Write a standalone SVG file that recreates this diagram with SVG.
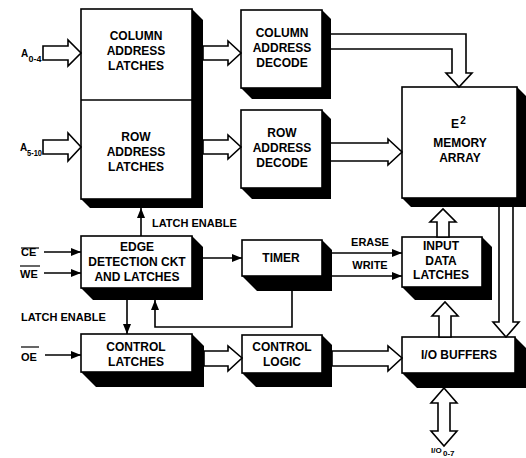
<svg xmlns="http://www.w3.org/2000/svg" width="526" height="458" viewBox="0 0 526 458">
<style>
.box{fill:#fff;stroke:#000;stroke-width:1.6}
.sh{fill:#000}
.t{font-family:"Liberation Sans",Arial,sans-serif;font-weight:bold;font-size:12px;text-anchor:middle;fill:#000}
.l{font-family:"Liberation Sans",Arial,sans-serif;font-weight:bold;font-size:11px;fill:#000}
.s{font-family:"Liberation Sans",Arial,sans-serif;font-weight:bold;font-size:9px;fill:#000}
.ln{stroke:#000;stroke-width:1.6;fill:none}
.ha{fill:#fff;stroke:#000;stroke-width:1.6;stroke-linejoin:miter}
</style>
<defs>
<marker id="ar" viewBox="0 0 10 8" refX="10" refY="4" markerWidth="11" markerHeight="8" orient="auto" markerUnits="userSpaceOnUse">
<path d="M0,0 L10,4 L0,8 z" fill="#000"/>
</marker>
</defs>
<rect width="526" height="458" fill="#fff"/>

<g id="address-latches">
<polygon class="sh" points="192,9 203,20 203,208 90,208 81,199"/>
<rect class="box" x="81" y="9" width="111" height="190"/>
<line class="ln" x1="81" y1="100" x2="192" y2="100"/>
<text class="t" x="136" y="40">COLUMN</text>
<text class="t" x="136" y="55">ADDRESS</text>
<text class="t" x="136" y="70">LATCHES</text>
<text class="t" x="136" y="141">ROW</text>
<text class="t" x="136" y="156">ADDRESS</text>
<text class="t" x="136" y="171">LATCHES</text>
</g>

<g id="column-decode">
<polygon class="sh" points="322,10 331,19 331,99 252,99 241,88"/>
<rect class="box" x="241" y="10" width="81" height="78"/>
<text class="t" x="282" y="37">COLUMN</text>
<text class="t" x="282" y="52">ADDRESS</text>
<text class="t" x="282" y="67">DECODE</text>
</g>

<g id="row-decode">
<polygon class="sh" points="322,110 331,119 331,199 252,199 241,188"/>
<rect class="box" x="241" y="110" width="81" height="78"/>
<text class="t" x="282" y="137">ROW</text>
<text class="t" x="282" y="152">ADDRESS</text>
<text class="t" x="282" y="167">DECODE</text>
</g>

<g id="memory-array">
<polygon class="sh" points="517,87 526,96 526,207 411,207 402,198"/>
<rect class="box" x="402" y="87" width="115" height="111"/>
<text class="t" x="455" y="128">E</text>
<text class="t" x="463" y="124" style="font-size:10px">2</text>
<text class="t" x="460" y="147">MEMORY</text>
<text class="t" x="460" y="162">ARRAY</text>
</g>

<g id="edge-detection">
<polygon class="sh" points="192,236 203,247 203,300 93,300 81,288"/>
<rect class="box" x="81" y="236" width="111" height="52"/>
<text class="t" x="137" y="251">EDGE</text>
<text class="t" x="137" y="266">DETECTION CKT</text>
<text class="t" x="137" y="281">AND LATCHES</text>
</g>

<g id="timer">
<polygon class="sh" points="322,240 332,250 332,291 257,291 242,276"/>
<rect class="box" x="242" y="240" width="80" height="36"/>
<text class="t" x="281" y="262">TIMER</text>
</g>

<g id="input-data-latches">
<polygon class="sh" points="482,237 492,247 492,300 415,300 402,287"/>
<rect class="box" x="402" y="237" width="80" height="50"/>
<text class="t" x="441" y="250">INPUT</text>
<text class="t" x="441" y="265">DATA</text>
<text class="t" x="441" y="279">LATCHES</text>
</g>

<g id="control-latches">
<polygon class="sh" points="192,334 204,346 204,387 96,387 81,372"/>
<rect class="box" x="81" y="334" width="111" height="38"/>
<text class="t" x="136" y="351">CONTROL</text>
<text class="t" x="136" y="366">LATCHES</text>
</g>

<g id="control-logic">
<polygon class="sh" points="322,335 332,345 332,387 256,387 242,373"/>
<rect class="box" x="242" y="335" width="80" height="38"/>
<text class="t" x="282" y="351">CONTROL</text>
<text class="t" x="282" y="366">LOGIC</text>
</g>

<g id="io-buffers">
<polygon class="sh" points="515,337 526,348 526,388 417,388 402,373"/>
<rect class="box" x="402" y="337" width="113" height="36"/>
<text class="t" x="459" y="359">I/O BUFFERS</text>
</g>

<g id="connectors">
<polygon class="ha" points="43,46 68,46 68,40 81,53 68,66 68,60 43,60"/>
<polygon class="ha" points="43,140 68,140 68,133 81,147 68,161 68,154 43,154"/>
<polygon class="ha" points="203,46 228,46 228,41 241,53 228,65 228,60 203,60"/>
<polygon class="ha" points="203,140 228,140 228,135 241,147 228,159 228,154 203,154"/>
<path class="ha" d="M331,34 H466 V73 H472 L459,87 L446,73 H452 V49 H331"/>
<path class="ha" d="M331,143 H388 V139 L402,152 L388,165 V161 H331"/>
<polygon class="ha" points="437,237 437,222 430,222 443,209 456,222 449,222 449,237"/>
<polygon class="ha" points="439,337 439,316 432,316 445,302 458,316 451,316 451,337"/>
<path class="ha" d="M499,207 V322 H493 L506,337 L519,322 H513 V207"/>
<polygon class="ha" points="444,388 457,403 450,403 450,431 457,431 444,446 431,431 438,431 438,403 431,403"/>
<polygon class="ha" points="204,351 228,351 228,346 242,358 228,371 228,366 204,366"/>
<polygon class="ha" points="332,351 388,351 388,346 402,358 388,371 388,366 332,366"/>
<line class="ln" x1="44" y1="252" x2="81" y2="252" marker-end="url(#ar)"/>
<line class="ln" x1="44" y1="273" x2="81" y2="273" marker-end="url(#ar)"/>
<line class="ln" x1="45" y1="355" x2="81" y2="355" marker-end="url(#ar)"/>
<line class="ln" x1="203" y1="258" x2="242" y2="258" marker-end="url(#ar)"/>
<line class="ln" x1="332" y1="253" x2="402" y2="253" marker-end="url(#ar)"/>
<line class="ln" x1="332" y1="276" x2="402" y2="276" marker-end="url(#ar)"/>
<line class="ln" x1="141" y1="236" x2="141" y2="208" marker-end="url(#ar)"/>
<line class="ln" x1="127" y1="300" x2="127" y2="334" marker-end="url(#ar)"/>
<polyline class="ln" points="292,291 292,327 155,327 155,300" marker-end="url(#ar)"/>
</g>

<g id="labels">
<text class="l" x="21" y="57" style="font-size:10px">A</text><text class="s" x="28.5" y="62" textLength="13" lengthAdjust="spacingAndGlyphs">0-4</text>
<text class="l" x="20" y="151" style="font-size:10px">A</text><text class="s" x="27" y="156" textLength="15" lengthAdjust="spacingAndGlyphs">5-10</text>
<text class="l" x="152" y="227">LATCH ENABLE</text>
<text class="l" x="21" y="321">LATCH ENABLE</text>
<text class="l" x="21" y="256">CE</text><line x1="21" y1="248" x2="39" y2="248" stroke="#000" stroke-width="1.2"/>
<text class="l" x="20" y="278">WE</text><line x1="20" y1="266" x2="40" y2="266" stroke="#000" stroke-width="1.2"/>
<text class="l" x="21" y="361">OE</text><line x1="21" y1="347" x2="39" y2="347" stroke="#000" stroke-width="1.2"/>
<text class="l" x="370" y="246" style="text-anchor:middle">ERASE</text>
<text class="l" x="370" y="269" style="text-anchor:middle">WRITE</text>
<text class="s" x="431" y="453" style="font-size:8px">I/O</text><text class="s" x="443" y="456" style="font-size:8px">0-7</text>
</g>
</svg>
